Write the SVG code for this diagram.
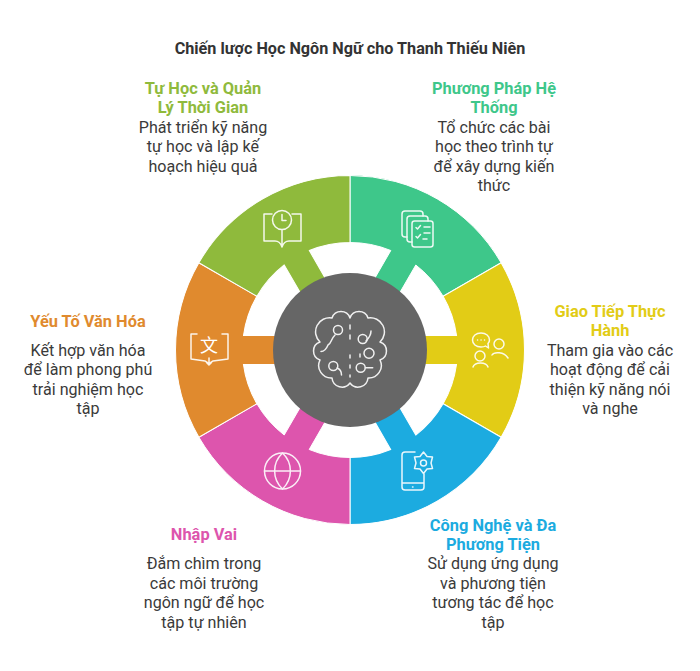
<svg xmlns="http://www.w3.org/2000/svg" xmlns:xlink="http://www.w3.org/1999/xlink" width="700" height="671" viewBox="0 0 700 671">
<defs><style>
text{font-family:Roboto,"Noto Sans",sans-serif;text-anchor:middle}
.h{font-size:16.2px;font-weight:700;fill:#333}
.t{font-size:16.4px;font-weight:700}
.b{font-size:16.1px;fill:#3a3a3a}
.i{fill:none;stroke:#fff;stroke-width:1.5;stroke-linecap:round;stroke-linejoin:round;opacity:.9}
.s{stroke:#fff;stroke-width:1}
.teal{fill:#3ec78a}.yellow{fill:#e2cc16}.blue{fill:#1cabe0}.pink{fill:#dd55ad}.orange{fill:#e08a2e}.green{fill:#8fba3c}
</style>
<path id="seg" class="s" d="M0 -174.500A174.500 174.500 0 0 1 151.100 -87.250L93.100 -53.750A107.500 107.500 0 0 0 65.800 -85L47.500 -53.400 22.500 -67.800 40.800 -99.500A107.500 107.500 0 0 0 0 -107.500Z"/>
</defs>
<rect width="700" height="671" fill="#fff"/>
<text class="h" x="350" y="54">Chiến lược Học Ngôn Ngữ cho Thanh Thiếu Niên</text>
<g id="node-phuong-phap">
<use xlink:href="#seg" href="#seg" class="teal" transform="translate(350 350)"/>
<g class="i"><path d="M407 237H405Q402 237 402 234V214Q402 211 405 211H420Q423 211 423 214V216"/><path d="M412 242H410Q407 242 407 239V219Q407 216 410 216H425Q428 216 428 219V221"/><rect x="412" y="221" width="21" height="26" rx="2.500"/><path d="M416 227.500 417.500 229 420.500 225.500M416 236.500 417.500 238 420.500 234.500M424 227H430M424 233H430M423 239H427"/></g>
<text class="t teal" x="494" y="93.500">Phương Pháp Hệ</text><text class="t teal" x="494" y="113">Thống</text>
<text class="b" x="494" y="132.500">Tổ chức các bài</text><text class="b" x="494" y="152">học theo trình tự</text><text class="b" x="494" y="171.500">để xây dựng kiến</text><text class="b" x="494" y="191">thức</text>
</g>
<g id="node-giao-tiep">
<use xlink:href="#seg" href="#seg" class="yellow" transform="translate(350 350) rotate(60)"/>
<g class="i"><path d="M481 333C476 333 472.500 336 472.500 340C472.500 344 476 347 481 347C483 347 484.500 346.700 485.500 346L488.500 348L488 343.500C489 342.500 489.500 341.300 489.500 340C489.500 336 486 333 481 333Z"/><path d="M477.500 340H477.600M481 340H481.100M484.500 340H484.600"/><circle cx="499" cy="344" r="5"/><path d="M492 355C494 351.500 504 351.500 508 358"/><circle cx="480" cy="356" r="5"/><path d="M473 367C474.500 361.500 486.500 361.500 488 367"/></g>
<text class="t yellow" x="610" y="316.500">Giao Tiếp Thực</text><text class="t yellow" x="610" y="336">Hành</text>
<text class="b" x="610" y="355.500">Tham gia vào các</text><text class="b" x="610" y="375">hoạt động để cải</text><text class="b" x="610" y="394.500">thiện kỹ năng nói</text><text class="b" x="610" y="414">và nghe</text>
</g>
<g id="node-cong-nghe">
<use xlink:href="#seg" href="#seg" class="blue" transform="translate(350 350) rotate(120)"/>
<g class="i"><path d="M415 452H405Q402 452 402 455V487Q402 490 405 490H421Q424 490 424 487V474M402 483H424"/><path d="M412.500 487H413"/><path d="M423.500 452 427 456.500 432.500 457 431 463 432.500 468.500 427 469 423.500 473.500 420 469 414.500 468.500 416 463 414.500 457 420 456.500Z"/><circle cx="423.500" cy="463" r="3"/></g>
<text class="t blue" x="493" y="530.500">Công Nghệ và Đa</text><text class="t blue" x="493" y="550">Phương Tiện</text>
<text class="b" x="493" y="569">Sử dụng ứng dụng</text><text class="b" x="493" y="588.500">và phương tiện</text><text class="b" x="493" y="608">tương tác để học</text><text class="b" x="493" y="627.500">tập</text>
</g>
<g id="node-nhap-vai">
<use xlink:href="#seg" href="#seg" class="pink" transform="translate(350 350) rotate(180)"/>
<g class="i"><circle cx="282.500" cy="471" r="18"/><path d="M282.500 453C272 463 272 479 282.500 489C293 479 293 463 282.500 453ZM264.500 471H300.500"/></g>
<text class="t pink" x="204" y="539.500">Nhập Vai</text>
<text class="b" x="204" y="569">Đắm chìm trong</text><text class="b" x="204" y="588.500">các môi trường</text><text class="b" x="204" y="608">ngôn ngữ để học</text><text class="b" x="204" y="627.500">tập tự nhiên</text>
</g>
<g id="node-van-hoa">
<use xlink:href="#seg" href="#seg" class="orange" transform="translate(350 350) rotate(240)"/>
<g class="i"><path d="M197 334H191V359L205 361Q208 362 209 365Q210 362 213 361L228 359V334H222M209 358V365M206.500 362.500 209 365 211.500 362.500"/></g>
<text x="209" y="352" style="font-family:'Noto Sans CJK SC',sans-serif;font-size:18px;font-weight:400" fill="#fff">文</text>
<text class="t orange" x="88" y="326.500">Yếu Tố Văn Hóa</text>
<text class="b" x="88" y="355.500">Kết hợp văn hóa</text><text class="b" x="88" y="375">để làm phong phú</text><text class="b" x="88" y="394.500">trải nghiệm học</text><text class="b" x="88" y="414">tập</text>
</g>
<g id="node-tu-hoc">
<use xlink:href="#seg" href="#seg" class="green" transform="translate(350 350) rotate(300)"/>
<g class="i"><path d="M272 214H264V241H275Q280 241 282 247Q284 241 289 241H301V214H292M282 230V246"/><circle cx="282" cy="220" r="9.500"/><path d="M282 214.500V220.500H286"/></g>
<text class="t green" x="203" y="93.500">Tự Học và Quản</text><text class="t green" x="203" y="113">Lý Thời Gian</text>
<text class="b" x="203" y="132.500">Phát triển kỹ năng</text><text class="b" x="203" y="152">tự học và lập kế</text><text class="b" x="203" y="171.500">hoạch hiệu quả</text>
</g>
<g id="node-center">
<circle cx="350" cy="350" r="77" fill="#666"/>
<g class="i"><path d="M350 318A9.500 9.500 0 0 1 368 318A14 14 0 0 1 380 342A9.500 9.500 0 0 1 380 360A12.500 12.500 0 0 1 368 378A10 10 0 0 1 350 383A10 10 0 0 1 332 378A12.500 12.500 0 0 1 320 360A9.500 9.500 0 0 1 320 342A14 14 0 0 1 332 318A9.500 9.500 0 0 1 350 318Z"/>
<circle cx="338" cy="330" r="4.500"/><path d="M335 335C330 340 332 343 328 345C326 350 324 351.500 321 351.500"/>
<circle cx="362.700" cy="339" r="4.500"/><path d="M366 341C369 338 371 335 371 331"/>
<circle cx="369" cy="353.300" r="5"/><path d="M360 354V357"/>
<circle cx="333.300" cy="366" r="4.500"/><path d="M337 368C340 369 341.500 372 341.500 375"/>
<circle cx="360.700" cy="367.700" r="4.500"/><path d="M365.500 367.700H372.700"/>
<path d="M350 325V329M350 335V339M350 355V358M350 365V368M350 375V377"/></g>
</g>
</svg>
